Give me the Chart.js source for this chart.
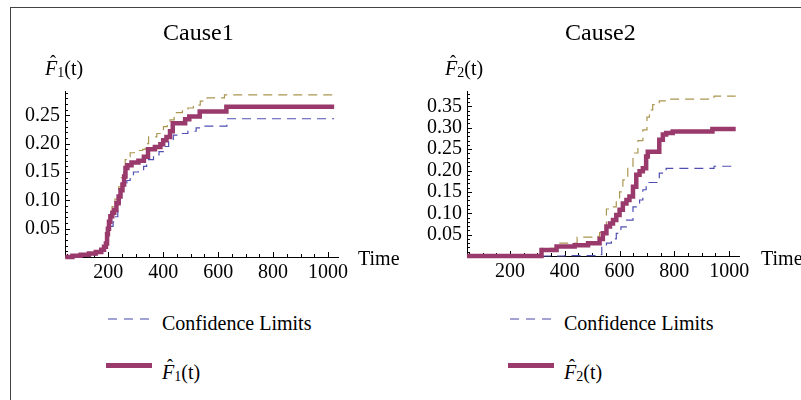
<!DOCTYPE html>
<html>
<head>
<meta charset="utf-8">
<script src="https://cdn.jsdelivr.net/npm/chart.js@4.4.1/dist/chart.umd.min.js"></script>
<style>
  body { margin: 0; background: #fff; }
  #wrap { position: relative; width: 801px; height: 400px; overflow: hidden;
    font-family: 'Liberation Serif', 'DejaVu Serif', serif; color: #000; }
  #frame { position: absolute; left: 10px; top: 7px; right: -2px; bottom: -2px;
    border-top: 1px solid #444; border-left: 1px solid #444; }
  canvas { position: absolute; top: 0; }
  .txt { position: absolute; white-space: nowrap; line-height: 1; }
  .title { font-size: 24px; }
  .lab { font-size: 20px; }
  .fh { position: relative; display: inline-block; font-style: italic; }
  .fh .hat { position: absolute; left: 5px; top: -5px; font-style: normal; font-size: 18px; }
  .sub { font-size: 14px; position: relative; top: 2px; }
</style>
</head>
<body>
<div id="wrap">
  <div id="frame"></div>
  <canvas id="cause1" width="400" height="300" style="left:0"></canvas>
  <canvas id="cause2" width="400" height="300" style="left:400px"></canvas>

  <div class="txt title" style="left:163px; top:20px">Cause1</div>
  <div class="txt title" style="left:565px; top:20px">Cause2</div>

  <div class="txt lab" style="left:45px; top:58px"><span class="fh">F<span class="hat">ˆ</span></span><span class="sub">1</span>(t)</div>
  <div class="txt lab" style="left:445px; top:58px"><span class="fh">F<span class="hat">ˆ</span></span><span class="sub">2</span>(t)</div>

  <div class="txt lab" style="left:358px; top:248px">Time</div>
  <div class="txt lab" style="left:761px; top:248px">Time</div>

  <svg style="position:absolute; left:106px; top:314px" width="50" height="10">
    <line x1="2" y1="5" x2="46" y2="5" stroke="#8484c8" stroke-width="1.3" stroke-dasharray="9,7"/>
  </svg>
  <div class="txt lab" style="left:162px; top:313px">Confidence Limits</div>
  <div style="position:absolute; left:106px; top:363px; width:46px; height:5px; background:#9a3a6c"></div>
  <div class="txt lab" style="left:162px; top:362px"><span class="fh">F<span class="hat">ˆ</span></span><span class="sub">1</span>(t)</div>

  <svg style="position:absolute; left:508px; top:314px" width="50" height="10">
    <line x1="2" y1="5" x2="46" y2="5" stroke="#8484c8" stroke-width="1.3" stroke-dasharray="9,7"/>
  </svg>
  <div class="txt lab" style="left:564px; top:313px">Confidence Limits</div>
  <div style="position:absolute; left:508px; top:363px; width:46px; height:5px; background:#9a3a6c"></div>
  <div class="txt lab" style="left:564px; top:362px"><span class="fh">F<span class="hat">ˆ</span></span><span class="sub">2</span>(t)</div>
</div>

<script>
'use strict';

// axis ticks
const timeTicks = [200, 400, 600, 800, 1000];
const cause1Ticks = [0.05, 0.10, 0.15, 0.20, 0.25];
const cause2Ticks = [0.05, 0.10, 0.15, 0.20, 0.25, 0.30, 0.35];

// Cause1 estimate and confidence limits (time, value)
const c1EstT = [44, 70, 100, 130, 155, 175, 185, 192, 196, 199, 203, 208, 215, 222, 230, 238, 245, 252, 258, 263, 270, 285, 310, 330, 345, 370, 390, 400, 412, 425, 435, 480, 495, 533, 630, 1022];
const c1EstF = [0, 0.002, 0.004, 0.006, 0.009, 0.013, 0.018, 0.024, 0.040, 0.050, 0.062, 0.072, 0.078, 0.083, 0.095, 0.107, 0.118, 0.128, 0.142, 0.157, 0.162, 0.167, 0.170, 0.177, 0.190, 0.194, 0.199, 0.206, 0.212, 0.222, 0.236, 0.243, 0.248, 0.257, 0.265, 0.265];

const c1UpT = [44, 100, 155, 185, 192, 197, 205, 214, 225, 238, 248, 256, 262, 268, 280, 295, 325, 335, 347, 377, 395, 401, 415, 425, 440, 470, 490, 510, 535, 560, 623, 1022];
const c1UpF = [0, 0.005, 0.010, 0.020, 0.030, 0.053, 0.070, 0.089, 0.102, 0.124, 0.140, 0.157, 0.172, 0.177, 0.184, 0.188, 0.190, 0.200, 0.212, 0.218, 0.222, 0.230, 0.236, 0.242, 0.255, 0.258, 0.263, 0.268, 0.275, 0.281, 0.286, 0.286];

const c1LoT = [44, 100, 155, 185, 193, 200, 207, 218, 225, 235, 244, 255, 268, 280, 292, 310, 329, 340, 365, 385, 401, 420, 437, 470, 490, 520, 535, 632, 1022];
const c1LoF = [0, 0.003, 0.008, 0.016, 0.024, 0.045, 0.054, 0.062, 0.071, 0.095, 0.118, 0.128, 0.135, 0.142, 0.150, 0.154, 0.160, 0.172, 0.180, 0.186, 0.195, 0.205, 0.215, 0.218, 0.222, 0.228, 0.231, 0.244, 0.244];

// Cause2 estimate and confidence limits (time, value)
const c2EstT = [43, 303, 315, 370, 436, 485, 527, 539, 552, 565, 576, 588, 600, 612, 625, 636, 649, 661, 673, 685, 697, 703, 745, 758, 770, 794, 939, 1024];
const c2EstF = [0, 0, 0.014, 0.022, 0.025, 0.030, 0.040, 0.053, 0.069, 0.076, 0.084, 0.096, 0.108, 0.123, 0.131, 0.139, 0.162, 0.190, 0.198, 0.205, 0.233, 0.244, 0.272, 0.284, 0.288, 0.291, 0.297, 0.297];

const c2UpT = [43, 303, 315, 382, 445, 500, 527, 540, 552, 565, 588, 600, 612, 630, 649, 667, 685, 700, 709, 721, 745, 770, 945, 1024];
const c2UpF = [0, 0, 0.018, 0.030, 0.044, 0.046, 0.055, 0.062, 0.110, 0.115, 0.131, 0.150, 0.178, 0.210, 0.241, 0.270, 0.295, 0.325, 0.342, 0.354, 0.363, 0.367, 0.374, 0.374];

const c2LoT = [43, 400, 520, 535, 552, 570, 588, 605, 625, 649, 673, 685, 697, 745, 770, 945, 1024];
const c2LoF = [0, 0.001, 0.003, 0.022, 0.030, 0.040, 0.053, 0.068, 0.084, 0.115, 0.131, 0.155, 0.172, 0.194, 0.205, 0.210, 0.212];

Chart.defaults.font.family = "'Liberation Serif', 'DejaVu Serif', serif";
Chart.defaults.font.size = 20;
Chart.defaults.color = '#000';

function points(ts, fs) {
  return ts.map((t, i) => ({ x: t, y: fs[i] }));
}

// Mathematica-style ticks pointing into the plot, with minor ones
const axisTicks = {
  id: 'axisTicks',
  beforeDatasetsDraw(chart) {
    const { ctx, chartArea, scales: { x, y } } = chart;
    ctx.save();
    ctx.strokeStyle = '#000';
    ctx.lineWidth = 1;
    ctx.beginPath();
    for (let t = 50; t <= x.max; t += 50) {
      const px = Math.round(x.getPixelForValue(t)) + 0.5;
      const len = t % 200 === 0 ? 5 : 3;
      ctx.moveTo(px, chartArea.bottom);
      ctx.lineTo(px, chartArea.bottom - len);
    }
    for (let k = 1; k * 0.01 <= y.max; k++) {
      const py = Math.round(y.getPixelForValue(k * 0.01)) + 0.5;
      const len = k % 5 === 0 ? 5 : 3;
      ctx.moveTo(chartArea.left, py);
      ctx.lineTo(chartArea.left + len, py);
    }
    ctx.stroke();
    ctx.restore();
  }
};

function makePanel(id, est, up, lo, yTicks, yMax, yWidth, pad) {
  return new Chart(document.getElementById(id), {
    type: 'line',
    data: {
      datasets: [
        { label: 'estimate', data: est, borderColor: '#9a3a6c', borderWidth: 4.5, stepped: true, clip: 6 },
        { label: 'upper', data: up, borderColor: '#ab9650', borderWidth: 1.2, borderDash: [9, 6], stepped: true, clip: 6 },
        { label: 'lower', data: lo, borderColor: '#4f4fb4', borderWidth: 1.2, borderDash: [9, 6], stepped: true, clip: 6 }
      ]
    },
    options: {
      responsive: false,
      animation: false,
      layout: { padding: pad },
      elements: { point: { radius: 0 }, line: { tension: 0 } },
      plugins: { legend: { display: false }, tooltip: { enabled: false } },
      scales: {
        x: {
          type: 'linear', min: 43, max: 1036,
          grid: { display: false, drawTicks: false },
          border: { display: true, color: '#000', width: 1 },
          ticks: { padding: 4, maxRotation: 0, autoSkip: false, callback: v => String(v) },
          afterBuildTicks: s => { s.ticks = timeTicks.map(v => ({ value: v })); },
          afterFit: s => { s.height = 30; s.paddingLeft = 0; s.paddingRight = 0; }
        },
        y: {
          type: 'linear', min: 0, max: yMax,
          grid: { display: false, drawTicks: false },
          border: { display: true, color: '#000', width: 1 },
          ticks: { padding: 5, autoSkip: false, callback: v => v.toFixed(2) },
          afterBuildTicks: s => { s.ticks = yTicks.map(v => ({ value: v })); },
          afterFit: s => { s.width = yWidth; s.paddingTop = 0; s.paddingBottom = 0; }
        }
      }
    },
    plugins: [axisTicks]
  });
}

makePanel('cause1', points(c1EstT, c1EstF), points(c1UpT, c1UpF), points(c1LoT, c1LoF),
  cause1Ticks, 0.293, 65, { left: 0, top: 91, right: 62, bottom: 13 });
makePanel('cause2', points(c2EstT, c2EstF), points(c2UpT, c2UpF), points(c2LoT, c2LoF),
  cause2Ticks, 0.386, 67, { left: 0, top: 91, right: 61, bottom: 14 });
</script>
</body>
</html>
